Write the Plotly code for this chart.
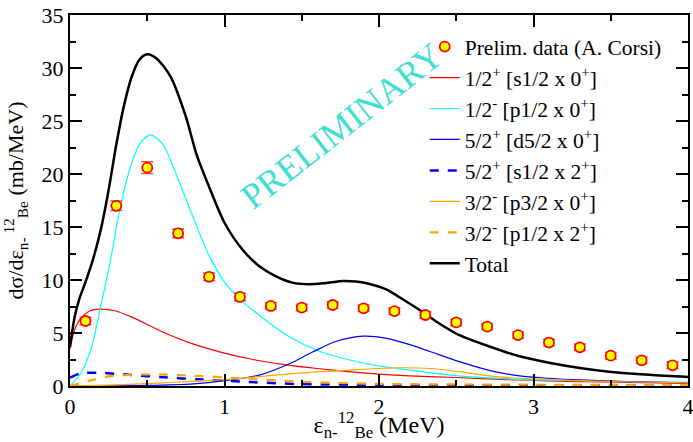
import plotly.graph_objects as go

# ---- data ----
data_x = [0.1, 0.3, 0.5, 0.7, 0.9, 1.1, 1.3, 1.5, 1.7, 1.9, 2.1, 2.3, 2.5, 2.7, 2.9, 3.1, 3.3, 3.5, 3.7, 3.9]
data_y = [6.13, 17.0, 20.6, 14.4, 10.3, 8.4, 7.55, 7.4, 7.64, 7.33, 7.07, 6.7, 6.0, 5.6, 4.8, 4.1, 3.65, 2.86, 2.42, 1.95]
data_err = [0.35, 0.45, 0.55, 0.4, 0.35, 0.35, 0.3, 0.3, 0.3, 0.3, 0.3, 0.3, 0.3, 0.3, 0.3, 0.3, 0.3, 0.3, 0.3, 0.3]

red_x = [0, 0.03, 0.07, 0.13, 0.19, 0.29, 0.4, 0.6, 0.8, 1.0, 1.2, 1.4, 1.6, 1.8, 2.0, 2.2, 2.5, 2.9, 3.3, 3.6, 4.0]
red_y = [3.5, 5.3, 6.4, 7.1, 7.25, 7.1, 6.5, 5.1, 3.95, 3.1, 2.45, 2.0, 1.65, 1.35, 1.12, 0.95, 0.8, 0.57, 0.42, 0.34, 0.25]

cyan_x = [0, 0.07, 0.14, 0.2, 0.26, 0.32, 0.39, 0.45, 0.52, 0.6, 0.7, 0.8, 0.9, 1.0, 1.1, 1.25, 1.42, 1.62, 1.81, 2.0, 2.2, 2.5, 2.9, 3.3, 3.6, 4.0]
cyan_y = [0, 1.2, 3.7, 7.6, 11.7, 16.5, 20.6, 22.8, 23.7, 22.8, 19.5, 15.8, 12.3, 9.8, 8.2, 6.4, 4.65, 3.25, 2.45, 1.9, 1.5, 0.97, 0.63, 0.5, 0.42, 0.35]

blue_x = [0, 0.5, 0.8, 1.0, 1.23, 1.42, 1.57, 1.72, 1.9, 2.05, 2.2, 2.33, 2.52, 2.72, 2.91, 3.1, 3.3, 3.6, 4.0]
blue_y = [0, 0.05, 0.2, 0.5, 1.05, 2.1, 3.2, 4.2, 4.7, 4.5, 3.9, 3.25, 2.3, 1.45, 0.95, 0.73, 0.57, 0.42, 0.3]

bdash_x = [0, 0.07, 0.18, 0.4, 0.61, 0.83, 1.1, 1.47, 2.0, 2.5, 3.0, 3.5, 4.0]
bdash_y = [0.8, 1.2, 1.25, 1.04, 0.82, 0.63, 0.42, 0.19, 0.1, 0.07, 0.05, 0.04, 0.03]

orange_x = [0, 0.3, 0.6, 1.0, 1.42, 1.81, 2.13, 2.33, 2.52, 2.72, 2.91, 3.3, 3.6, 4.0]
orange_y = [0, 0.1, 0.3, 0.6, 1.15, 1.5, 1.72, 1.65, 1.35, 0.95, 0.73, 0.5, 0.4, 0.3]

odash_x = [0, 0.14, 0.25, 0.5, 0.83, 1.1, 1.49, 2.0, 2.5, 3.0, 3.5, 4.0]
odash_y = [0, 0.55, 0.9, 1.1, 0.95, 0.73, 0.41, 0.2, 0.15, 0.12, 0.1, 0.08]

tot_x = [0, 0.03, 0.06, 0.1, 0.15, 0.2, 0.25, 0.3, 0.35, 0.4, 0.45, 0.5, 0.56, 0.65, 0.75, 0.82, 0.9, 1.0,
         1.12, 1.23, 1.34, 1.44, 1.55, 1.65, 1.77, 1.85, 1.92, 2.05, 2.13, 2.26, 2.39, 2.52, 2.72, 2.91, 3.1,
         3.3, 3.49, 3.75, 4.0]
tot_y = [3.7, 6.5, 8.2, 9.8, 12.0, 14.8, 18.5, 22.8, 26.5, 29.2, 30.8, 31.3, 30.9, 29.2, 25.4, 21.8, 18.8, 15.4,
         12.8, 11.25, 10.3, 9.75, 9.6, 9.7, 9.9, 9.85, 9.7, 9.1, 8.4, 7.2, 5.9, 4.8, 3.7, 2.8, 2.2,
         1.7, 1.35, 1.05, 0.85]

names = ["Prelim. data (A. Corsi)",
         "1/2<sup>+</sup> [s1/2 x 0<sup>+</sup>]",
         "1/2<sup>-</sup> [p1/2 x 0<sup>+</sup>]",
         "5/2<sup>+</sup> [d5/2 x 0<sup>+</sup>]",
         "5/2<sup>+</sup> [s1/2 x 2<sup>+</sup>]",
         "3/2<sup>-</sup> [p3/2 x 0<sup>+</sup>]",
         "3/2<sup>-</sup> [p1/2 x 2<sup>+</sup>]",
         "Total"]

FONT = "Liberation Serif"

fig = go.Figure()

curves = [
    (red_x, red_y, names[1], "#ff0000", 1.2, "solid"),
    (cyan_x, cyan_y, names[2], "#00ffff", 1.2, "solid"),
    (blue_x, blue_y, names[3], "#0000ff", 1.2, "solid"),
    (bdash_x, bdash_y, names[4], "#0000ff", 2.5, "dash"),
    (orange_x, orange_y, names[5], "#ffa500", 1.2, "solid"),
    (odash_x, odash_y, names[6], "#ffa500", 2.2, "dash"),
    (tot_x, tot_y, names[7], "#000000", 2.5, "solid"),
]

for i, (xs, ys, nm, col, w, dash) in enumerate(curves):
    fig.add_trace(go.Scatter(x=xs, y=ys, mode="lines", name=nm, legendrank=i + 2,
                             line=dict(color=col, width=w, dash=dash, shape="spline", smoothing=0.8)))

fig.add_trace(go.Scatter(
    x=data_x, y=data_y, mode="markers", name=names[0], legendrank=1,
    marker=dict(color="#ffff00", size=10, line=dict(color="#ff0000", width=1.8)),
    error_y=dict(type="data", array=data_err, visible=True, color="rgba(235,40,40,0.8)",
                 thickness=1.6, width=6),
))

fig.add_annotation(x=1.76, y=24.5, xref="x", yref="y", text="PRELIMINARY", showarrow=False,
                   textangle=-38, font=dict(family=FONT, size=36, color="#40e0d0"))

axis_common = dict(showline=True, linecolor="black", linewidth=2, mirror="allticks",
                   ticks="inside", ticklen=12, tickwidth=1.5, tickcolor="black",
                   showgrid=False, zeroline=False, automargin=False, ticklabeloverflow="allow",
                   tickfont=dict(family=FONT, size=22, color="black"))

fig.update_xaxes(range=[0, 4], dtick=1, tick0=0,
                 minor=dict(dtick=0.5, ticks="inside", ticklen=6, tickwidth=1.5, tickcolor="black", showgrid=False),
                 title=dict(text="ε<sub>n-</sub><sup>12</sup><sub>Be</sub> (MeV)",
                            font=dict(family=FONT, size=24, color="black")),
                 **axis_common)
fig.update_yaxes(range=[0, 35], dtick=5, tick0=0,
                 minor=dict(dtick=2.5, ticks="inside", ticklen=6, tickwidth=1.5, tickcolor="black", showgrid=False),
                 title=dict(text="dσ/dε<sub>n- </sub><sup>12</sup><sub>Be</sub> (mb/MeV)",
                            font=dict(family=FONT, size=22, color="black")),
                 **axis_common)

fig.update_layout(
    width=693, height=442,
    margin=dict(l=70, r=5, t=15, b=56),
    paper_bgcolor="white", plot_bgcolor="white",
    font=dict(family=FONT, color="black"),
    legend=dict(x=0.574, y=0.97, xanchor="left", yanchor="top", bgcolor="rgba(0,0,0,0)",
                font=dict(family=FONT, size=21.5, color="black"), tracegroupgap=0,
                itemwidth=30),
)

fig.write_html("out.html")
